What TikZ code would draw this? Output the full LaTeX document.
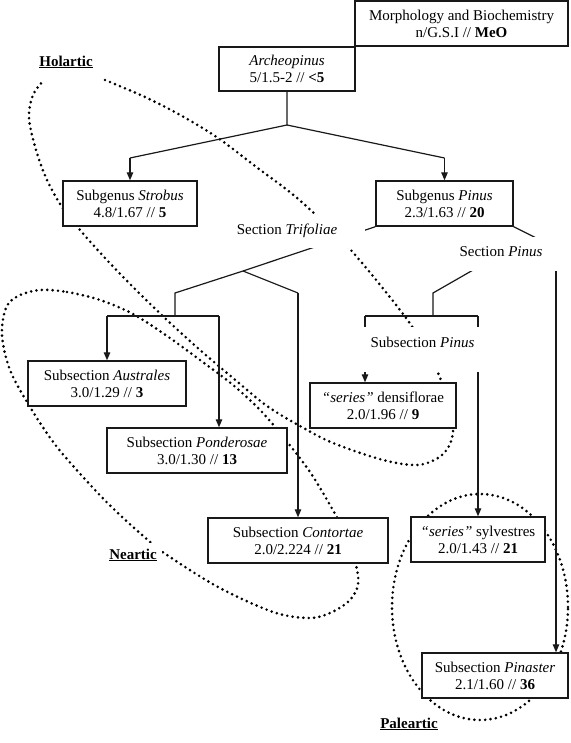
\documentclass[tikz,border=0pt]{standalone}
\usepackage{fontspec}
\setmainfont{Liberation Serif}
\usetikzlibrary{arrows.meta,backgrounds}
\begin{document}
\begin{tikzpicture}[x=1pt,y=-1pt,
  box/.style={draw=black!90, line width=1.4pt, fill=white, align=center, inner sep=0pt, font=\fontsize{15}{17}\selectfont},
  cover/.style={fill=white, inner sep=0pt, align=center, font=\fontsize{15}{17}\selectfont},
  region/.style={inner sep=0pt, font=\fontsize{15}{17}\selectfont\bfseries},
  conn/.style={line width=1.2pt, draw=black!90},
  arr/.style={conn, -{Triangle[length=8pt,width=6.5pt]}},
  dots/.style={line width=2.9pt, line cap=round, dash pattern=on 0pt off 5.4pt, draw=black}
]
\useasboundingbox (0,0) rectangle (570,743);

% boxes
\node[box, line width=2.2pt, minimum width=213pt, minimum height=45pt] (morph) at (461.5,23.5) {Morphology and Biochemistry\\n/G.S.I // \textbf{MeO}};
\node[box, minimum width=136pt, minimum height=44pt] (arch) at (287,69) {\textit{Archeopinus}\\5/1.5-2 // \textbf{<5}};
\node[box, minimum width=134pt, minimum height=45pt] (strobus) at (130,203.5) {Subgenus \textit{Strobus}\\4.8/1.67 // \textbf{5}};
\node[box, minimum width=137pt, minimum height=45pt] (pinus) at (444.5,203.5) {Subgenus \textit{Pinus}\\2.3/1.63 // \textbf{20}};
\node[box, minimum width=158pt, minimum height=45pt] (australes) at (107,383.5) {Subsection \textit{Australes}\\3.0/1.29 // \textbf{3}};
\node[box, minimum width=180pt, minimum height=45pt] (ponderosae) at (197,450.5) {Subsection \textit{Ponderosae}\\3.0/1.30 // \textbf{13}};
\node[box, minimum width=146pt, minimum height=45pt] (densiflorae) at (383,405.5) {\textit{“series”} densiflorae\\2.0/1.96 // \textbf{9}};
\node[box, minimum width=180pt, minimum height=45pt] (contortae) at (298,540.5) {Subsection \textit{Contortae}\\2.0/2.224 // \textbf{21}};
\node[box, minimum width=134pt, minimum height=45pt] (sylvestres) at (478,539.5) {\textit{“series”} sylvestres\\2.0/1.43 // \textbf{21}};
\node[box, minimum width=146pt, minimum height=45pt] (pinaster) at (495,675.5) {Subsection \textit{Pinaster}\\2.1/1.60 // \textbf{36}};

% text labels with white background
\node[cover, minimum width=156pt, text height=19pt, text depth=14pt] (trifoliae) at (287,231.5) {Section \textit{Trifoliae}};
\node[cover, minimum width=122pt, text height=19pt, text depth=15pt] (secpinus) at (501,254) {Section \textit{Pinus}};
\node[cover, minimum width=135pt, text height=20pt, text depth=25pt] (subpinus) at (422.5,349.5) {Subsection \textit{Pinus}};

% region labels
\node[region] (holartic) at (66,62) {\underline{Holartic}};
\node[region, fill=white, minimum width=58pt, text height=16pt, text depth=7pt] (neartic) at (133,554.5) {\underline{Neartic}};
\node[region] (paleartic) at (409,724) {\underline{Paleartic}};

\begin{pgfonlayer}{background}
% dotted regions
\draw[dots] plot[smooth, tension=0.55] coordinates {(105,80) (145,97) (182,116) (218,138) (255,166) (291,193) (318,217) (349,248) (381,286) (411,325) (433,362) (446,395) (453,428) (449,446) (438,458) (417,465) (383,460) (333,443) (300,426) (267,406) (233,378) (200,350) (167,320) (133,287) (105,258) (80,230) (62,207) (47,180) (36,150) (29,118) (33,95) (44,80)};
\draw[dots] plot[smooth cycle, tension=0.55] coordinates {(40,290) (67,292) (100,300) (133,314) (167,336) (200,360) (233,385) (262,412) (288,443) (310,472) (330,505) (346,535) (356,565) (358,585) (349,601) (330,613) (309,618) (273,612) (218,587) (167,555) (149,541) (120,515) (95,490) (57,447) (30,407) (10,370) (2,335) (6,308) (18,296)};
\draw[dots] (480,607) ellipse [x radius=88pt, y radius=113pt];

% tree connectors
\coordinate (j0) at (287,125);
\coordinate (jl) at (130,158);
\coordinate (jr) at (444.5,158);
\draw[conn] (arch.south) -- (j0) -- (jl);
\draw[conn] (j0) -- (jr);
\draw[arr] (jl) -- (strobus.north);
\draw[arr] (jr) -- (pinus.north);

\coordinate (t0) at (243,271);
\coordinate (tl) at (175,293);
\coordinate (tlb) at (175,316);
\coordinate (bl) at (107,316);
\coordinate (br) at (219,316);
\coordinate (tr) at (298,293);
\draw[conn] (pinus.south west) -- (t0) -- (tl) -- (tlb);
\draw[conn] (bl) -- (br);
\draw[arr] (bl) -- (australes.north);
\draw[arr] (br) -- (br |- ponderosae.north);
\draw[conn] (t0) -- (tr);
\draw[arr] (tr) -- (contortae.north);

\coordinate (sr) at (556,248);
\draw[conn] (pinus.south east) -- (sr);
\draw[arr] (sr) -- (sr |- pinaster.north);
\coordinate (s1) at (433,293);
\coordinate (s2) at (433,316);
\draw[conn] (secpinus.center) -- (s1) -- (s2);
\coordinate (pl) at (365,316);
\coordinate (pr) at (478,316);
\draw[conn] (pl) -- (pr);
\draw[arr] (pl) -- (pl |- densiflorae.north);
\draw[arr] (pr) -- (sylvestres.north);
\end{pgfonlayer}
\end{tikzpicture}
\end{document}
